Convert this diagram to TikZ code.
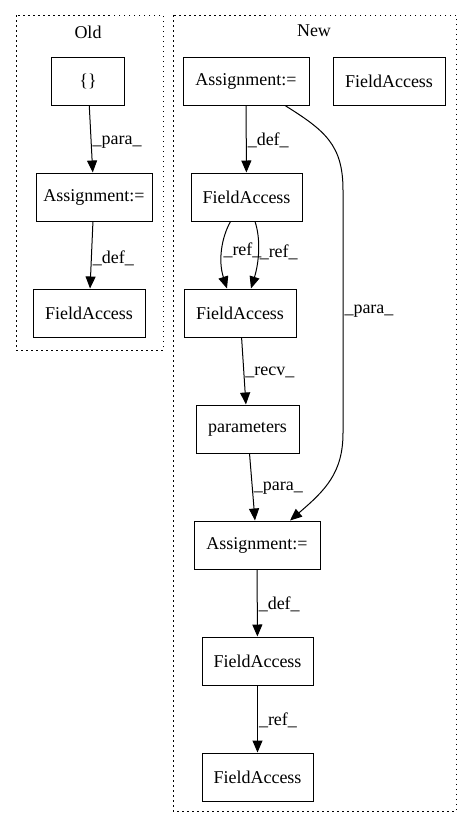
\documentclass[tikz,border=0pt]{standalone}
\usepackage{fontspec}
\setmainfont{Liberation Serif}
\usetikzlibrary{arrows.meta}
\begin{document}
\begin{tikzpicture}[x=1pt,y=-1pt,font=\fontsize{18}{22}\selectfont,
  box/.style={draw,line width=1pt,minimum height=48pt,minimum width=112pt,inner sep=0pt},
  edge/.style={line width=1pt,-{Triangle[length=12pt,width=10pt]}},
  lbl/.style={right,inner sep=1pt},
  cluster/.style={draw,line width=1pt,dash pattern=on 1.5pt off 3.5pt}]
\useasboundingbox (0,0) rectangle (472,828);
\draw[cluster] (16,15) rectangle (163,350);
\node (old) at (88,32) {Old};
\node[box,minimum width=73pt] (braces) at (88,81) {\{\}};
\node[box,minimum width=116pt] (oldassign) at (94,197) {Assignment:=};
\node[box] (oldfield) at (89,313) {FieldAccess};
\draw[edge] (braces) -- node[pos=0.55,lbl] {\_para\_} (oldassign);
\draw[edge] (oldassign) -- node[pos=0.55,lbl] {\_def\_} (oldfield);
\draw[cluster] (173,15) rectangle (456,811);
\node (new) at (314,31) {New};
\node[box,minimum width=126pt] (assignA) at (246,81) {Assignment:=};
\node[box] (fieldX) at (389,81) {FieldAccess};
\node[box,minimum width=111pt] (fieldA) at (246.5,197) {FieldAccess};
\node[box] (fieldB) at (240,313) {FieldAccess};
\node[box,minimum width=103pt] (params) at (247.5,429) {parameters};
\node[box,minimum width=126pt] (assignB) at (257,545) {Assignment:=};
\node[box,minimum width=111pt] (fieldC) at (257.5,661) {FieldAccess};
\node[box,minimum width=111pt] (fieldD) at (257.5,777) {FieldAccess};
\coordinate (bendtop) at (343,190);
\coordinate (bendbot) at (343,433);
\draw[edge] (assignA) -- node[pos=0.52,lbl] {\_def\_} (fieldA);
\draw[edge] ([xshift=-16pt]fieldA.south) .. controls +(-9,16) and +(-9,-28) .. node[pos=0.5,lbl] {\_ref\_} ([xshift=-13pt]fieldB.north);
\draw[edge] ([xshift=8.5pt]fieldA.south) .. controls +(6,18) and +(8,-26) .. node[pos=0.5,lbl] {\_ref\_} ([xshift=11pt]fieldB.north);
\draw[edge] (fieldB) -- node[pos=0.52,lbl] {\_recv\_} (params);
\draw[edge] (params) -- node[pos=0.52,lbl] {\_para\_} (assignB);
\draw[line width=1pt] ([xshift=39pt]assignA.south) .. controls +(40,25) and +(0,-45) .. (bendtop) -- node[midway,lbl] {\_para\_} (bendbot);
\draw[edge] (bendbot) .. controls +(0,40) and +(35,-30) .. ([xshift=33pt]assignB.north);
\draw[edge] (assignB) -- node[pos=0.52,lbl] {\_def\_} (fieldC);
\draw[edge] (fieldC) -- node[pos=0.52,lbl] {\_ref\_} (fieldD);
\end{tikzpicture}
\end{document}
